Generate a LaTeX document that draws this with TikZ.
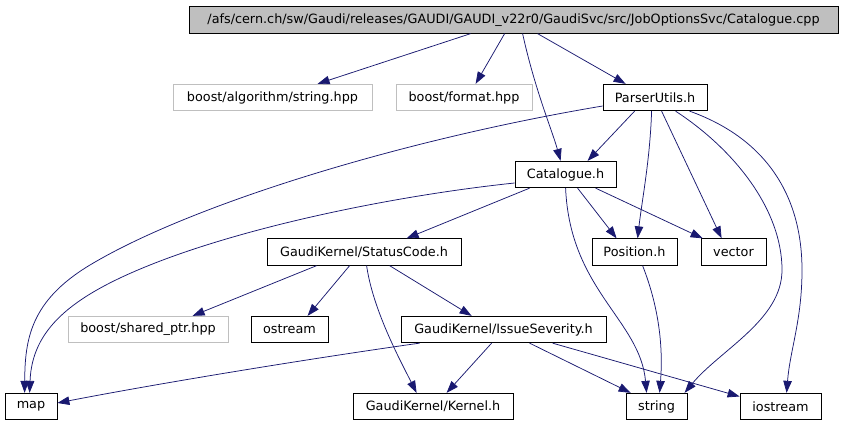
\documentclass[tikz,border=0pt]{standalone}
\usepackage{fontspec}
\setmainfont{DejaVu Sans}
\usetikzlibrary{arrows.meta}
\definecolor{edgeblue}{HTML}{191970}
\definecolor{lgray}{HTML}{BFBFBF}
\begin{document}
\begin{tikzpicture}[x=1pt,y=-1pt,
  box/.style={draw=black, line width=0.8pt, rectangle, inner sep=0pt,
    minimum height=26.5pt, fill=white, font=\fontsize{12.8}{14}\selectfont},
  extbox/.style={box, draw=lgray},
  topbox/.style={box, fill=lgray},
  dep/.style={draw=edgeblue, line width=0.75pt,
    -{Triangle[length=12pt,width=8.5pt]}}]
\useasboundingbox (0,0) rectangle (843,427);
% nodes
\node[topbox, minimum width=649pt] (cpp) at (513.5,20) {/afs/cern.ch/sw/Gaudi/releases/GAUDI/GAUDI\_v22r0/GaudiSvc/src/JobOptionsSvc/Catalogue.cpp};
\node[extbox, minimum width=199pt] (bas) at (272.5,97.5) {boost/algorithm/string.hpp};
\node[extbox, minimum width=136pt] (bf) at (464,97.5) {boost/format.hpp};
\node[box, minimum width=104pt] (pu) at (655,97.5) {ParserUtils.h};
\node[box, minimum width=101pt] (cat) at (565.5,174.5) {Catalogue.h};
\node[box, minimum width=194pt] (sc) at (364,252) {GaudiKernel/StatusCode.h};
\node[box, minimum width=85pt] (pos) at (634.5,252) {Position.h};
\node[box, minimum width=65pt] (vec) at (733.5,252) {vector};
\node[extbox, minimum width=160pt] (sp) at (148,329.5) {boost/shared\_ptr.hpp};
\node[box, minimum width=77pt] (os) at (289.5,329.5) {ostream};
\node[box, minimum width=205pt] (is) at (503.5,329.5) {GaudiKernel/IssueSeverity.h};
\node[box, minimum width=52pt] (map) at (31,406.5) {map};
\node[box, minimum width=160pt] (ker) at (433,406.5) {GaudiKernel/Kernel.h};
\node[box, minimum width=61pt] (str) at (656.5,406.5) {string};
\node[box, minimum width=81pt] (ios) at (780.5,406.5) {iostream};
% edges from cpp
\draw[dep] ([xshift=282pt]cpp.south west) -- ([xshift=145pt]bas.north west);
\draw[dep] ([xshift=316pt]cpp.south west) -- ([xshift=80pt]bf.north west);
\draw[dep] ([xshift=334pt]cpp.south west) .. controls (535,90) and (552,130) .. ([xshift=46pt]cat.north west);
\draw[dep] ([xshift=349pt]cpp.south west) -- ([xshift=23pt]pu.north west);
% edges from ParserUtils
\draw[dep] ([yshift=-8.5pt]pu.west) .. controls (400,140) and (190,205) .. (90,265)
  .. controls (30,301) and (25,340) .. ([xshift=20pt]map.north west);
\draw[dep] ([xshift=32pt]pu.south west) -- ([xshift=73pt]cat.north west);
\draw[dep] ([xshift=49pt]pu.south west) .. controls (650,160) and (642,200) .. ([xshift=46pt]pos.north west);
\draw[dep] ([xshift=59pt]pu.south west) -- ([xshift=21pt]vec.north west);
\draw[dep] ([xshift=73pt]pu.south west) .. controls (735,150) and (782,210) .. (782,270)
  .. controls (782,320) and (720,350) .. ([xshift=59pt]str.north west);
\draw[dep] ([xshift=87pt]pu.south west) .. controls (770,140) and (802,200) .. (802,270)
  .. controls (802,320) and (790,350) .. ([xshift=47pt]ios.north west);
% edges from Catalogue
\draw[dep] ([yshift=-8.5pt]cat.west) .. controls (400,195) and (250,225) .. (150,265)
  .. controls (70,297) and (32,330) .. ([xshift=25pt]map.north west);
\draw[dep] ([xshift=15pt]cat.south west) -- ([xshift=140pt]sc.north west);
\draw[dep] ([xshift=63pt]cat.south west) -- ([xshift=25pt]pos.north west);
\draw[dep] ([xshift=81pt]cat.south west) -- ([xshift=2pt]vec.north west);
\draw[dep] ([xshift=51pt]cat.south west) .. controls (570,290) and (640,320) .. ([xshift=21pt]str.north west);
% Position -> string
\draw[dep] ([xshift=51pt]pos.south west) .. controls (660,310) and (663,350) .. ([xshift=34pt]str.north west);
% edges from StatusCode
\draw[dep] ([xshift=50pt]sc.south west) -- ([xshift=125pt]sp.north west);
\draw[dep] ([xshift=83pt]sc.south west) -- ([xshift=57pt]os.north west);
\draw[dep] ([xshift=100pt]sc.south west) .. controls (373,310) and (400,360) .. ([xshift=64pt]ker.north west);
\draw[dep] ([xshift=123pt]sc.south west) -- ([xshift=71pt]is.north west);
% edges from IssueSeverity
\draw[dep] ([xshift=19pt]is.south west) .. controls (300,360) and (150,385) .. ([yshift=3.5pt]map.east);
\draw[dep] ([xshift=91pt]is.south west) -- ([xshift=94pt]ker.north west);
\draw[dep] ([xshift=129pt]is.south west) -- ([xshift=5pt]str.north west);
\draw[dep] ([xshift=152pt]is.south west) -- ([yshift=10pt]ios.west);
\end{tikzpicture}
\end{document}
